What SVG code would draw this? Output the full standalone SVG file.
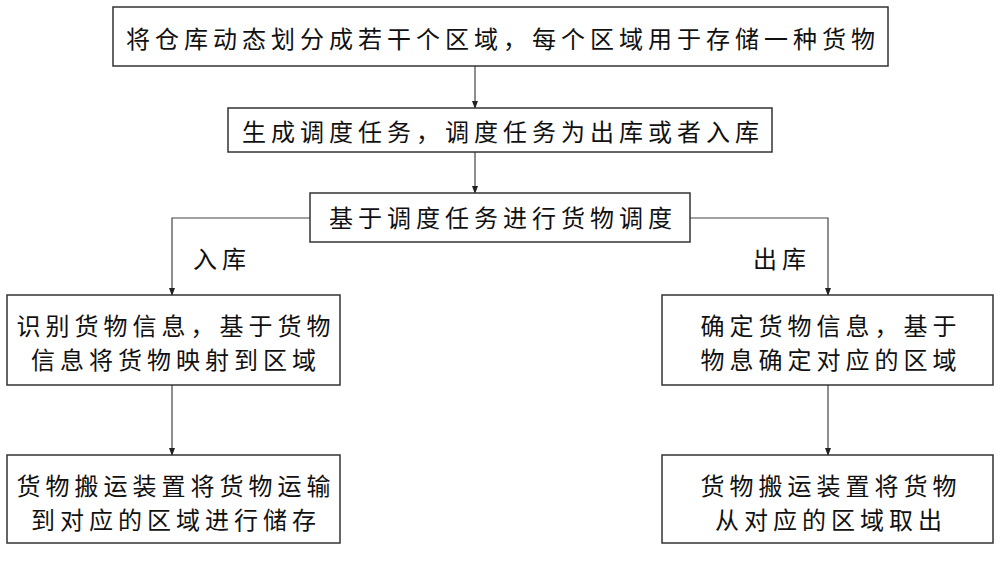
<svg xmlns="http://www.w3.org/2000/svg" width="1000" height="561" viewBox="0 0 1000 561">
<style>
rect{fill:#fff;stroke:#333;stroke-width:1.5}
text{font-family:"Noto Sans CJK SC",sans-serif;font-size:24px;letter-spacing:5px;fill:#111;text-anchor:middle;dominant-baseline:central}
.c{fill:none;stroke:#444;stroke-width:1.2}
</style>
<defs>
<marker id="d" markerWidth="8" markerHeight="8" refX="7" refY="4" orient="auto" markerUnits="userSpaceOnUse"><path d="M0,1 L8,4 L0,7 Z" fill="#222"/></marker></defs>
<rect width="1000" height="561" style="fill:#fff;stroke:none"/>
<g id="connectors">
<path class="c" d="M475,66 V108" marker-end="url(#d)"/>
<path class="c" d="M475,152 V193" marker-end="url(#d)"/>
<path class="c" d="M310,218 H172 V295" marker-end="url(#d)"/>
<path class="c" d="M690,218 H828 V295" marker-end="url(#d)"/>
<path class="c" d="M172,385 V455" marker-end="url(#d)"/>
<path class="c" d="M828,385 V455" marker-end="url(#d)"/>
<text x="222" y="257">入库</text>
<text x="782" y="257">出库</text>
</g>
<g id="n1"><rect x="113" y="7" width="775" height="59"/><text x="503" y="37">将仓库动态划分成若干个区域，每个区域用于存储一种货物</text></g>
<g id="n2"><rect x="228" y="108" width="544" height="44"/><text x="503" y="130">生成调度任务，调度任务为出库或者入库</text></g>
<g id="n3"><rect x="310" y="193" width="380" height="49"/><text x="503" y="216">基于调度任务进行货物调度</text></g>
<g id="n4"><rect x="7" y="295" width="333" height="90"/><text x="176" y="324">识别货物信息，基于货物</text><text x="176" y="358">信息将货物映射到区域</text></g>
<g id="n5"><rect x="662" y="295" width="331" height="90"/><text x="831" y="324">确定货物信息，基于</text><text x="831" y="358">物息确定对应的区域</text></g>
<g id="n6"><rect x="7" y="455" width="333" height="88"/><text x="176" y="484">货物搬运装置将货物运输</text><text x="176" y="518">到对应的区域进行储存</text></g>
<g id="n7"><rect x="662" y="455" width="331" height="88"/><text x="831" y="484">货物搬运装置将货物</text><text x="831" y="518">从对应的区域取出</text></g>
</svg>
